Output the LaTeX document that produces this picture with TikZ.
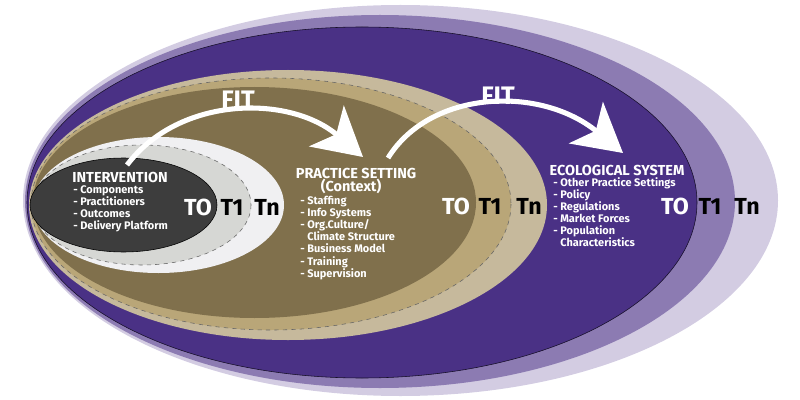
\documentclass[tikz,border=0pt]{standalone}
\usepackage{fontspec}
\setmainfont{Fira Sans}
\usetikzlibrary{arrows.meta}
\definecolor{lav}{HTML}{D3CCE2}
\definecolor{midpurple}{HTML}{8C7BB2}
\definecolor{darkpurple}{HTML}{4A3185}
\definecolor{lightbeige}{HTML}{C6B99C}
\definecolor{midtan}{HTML}{B9A678}
\definecolor{darktan}{HTML}{80704C}
\definecolor{whitish}{HTML}{F0F0F2}
\definecolor{lightgrey}{HTML}{D6D7D4}
\definecolor{darkgrey}{HTML}{3D3D3D}
\begin{document}
\begin{tikzpicture}[x=0.025cm,y=-0.025cm,title/.style={font=\bfseries\fontsize{10.3}{11}\selectfont,text=white,inner sep=0},items/.style={font=\bfseries\fontsize{7.8}{8.6}\selectfont,text=white,align=left,anchor=north west,inner sep=0},tlabel/.style={font=\bfseries\fontsize{16.5}{16.5}\selectfont,inner sep=0},fitlabel/.style={font=\bfseries\fontsize{18}{18}\selectfont,text=white,inner sep=0},fitarrow/.style={white,line width=3.6pt,-{Stealth[length=34pt,width=38pt,inset=9pt]}}]
\useasboundingbox (0,0) rectangle (800,400);
% ecological system
\fill[lav] (400.5,200.5) ellipse [x radius=377.5,y radius=195.5];
\fill[midpurple] (380,201.5) ellipse [x radius=355,y radius=186.5];
\filldraw[fill=darkpurple,draw=black!70!darkpurple,thin] (362,202.5) ellipse [x radius=335,y radius=175.5];
% practice setting
\fill[lightbeige] (288,205) ellipse [x radius=259,y radius=135];
\filldraw[fill=midtan,draw=black!60,dashed,thin] (271,204) ellipse [x radius=240,y radius=126];
\fill[darktan] (254.5,202.5) ellipse [x radius=221.5,y radius=115.5];
% intervention
\fill[whitish] (158.5,205) ellipse [x radius=125.5,y radius=68];
\filldraw[fill=lightgrey,draw=black!60,dashed,thin] (142,205) ellipse [x radius=109,y radius=60];
\filldraw[fill=darkgrey,draw=black,thin] (123.5,205) ellipse [x radius=93.5,y radius=47];
% fit arrows
\coordinate (fitAs) at (127,165);
\coordinate (fitAe) at (363,157);
\coordinate (fitBs) at (388,158);
\coordinate (fitBe) at (623,153);
\draw[fitarrow] (fitAs) .. controls (180,95) and (290,95) .. (fitAe);
\draw[fitarrow] (fitBs) .. controls (430,90) and (540,85) .. (fitBe);
\node[fitlabel] (fitA) at (238,100) {FIT};
\node[fitlabel] (fitB) at (498,96) {FIT};
% texts
\node[title] (int) at (120,177) {INTERVENTION};
\node[items] (intlist) at (73,185) {- Components\\- Practitioners\\- Outcomes\\- Delivery Platform};
\node[title] (ps) at (356,173) {PRACTICE SETTING};
\node[title] (psctx) at (351,186) {(Context)};
\node[items] (pslist) at (300,196) {- Staffing\\- Info Systems\\- Org.Culture/\\\phantom{- }Climate Structure\\- Business Model\\- Training\\- Supervision};
\node[title] (eco) at (617,170) {ECOLOGICAL SYSTEM};
\node[items] (ecolist) at (553,177) {- Other Practice Settings\\- Policy\\- Regulations\\- Market Forces\\- Population\\\phantom{- }Characteristics};
\node[tlabel,text=white] (intT0) at (198,207) {TO};
\node[tlabel] (intT1) at (232,207) {T1};
\node[tlabel] (intTn) at (267,207) {Tn};
\node[tlabel,text=white] (psT0) at (456,206) {TO};
\node[tlabel] (psT1) at (490,206) {T1};
\node[tlabel] (psTn) at (529,206) {Tn};
\node[tlabel,text=white] (ecoT0) at (675,206) {TO};
\node[tlabel] (ecoT1) at (710,206) {T1};
\node[tlabel] (ecoTn) at (747,206) {Tn};
\end{tikzpicture}
\end{document}
